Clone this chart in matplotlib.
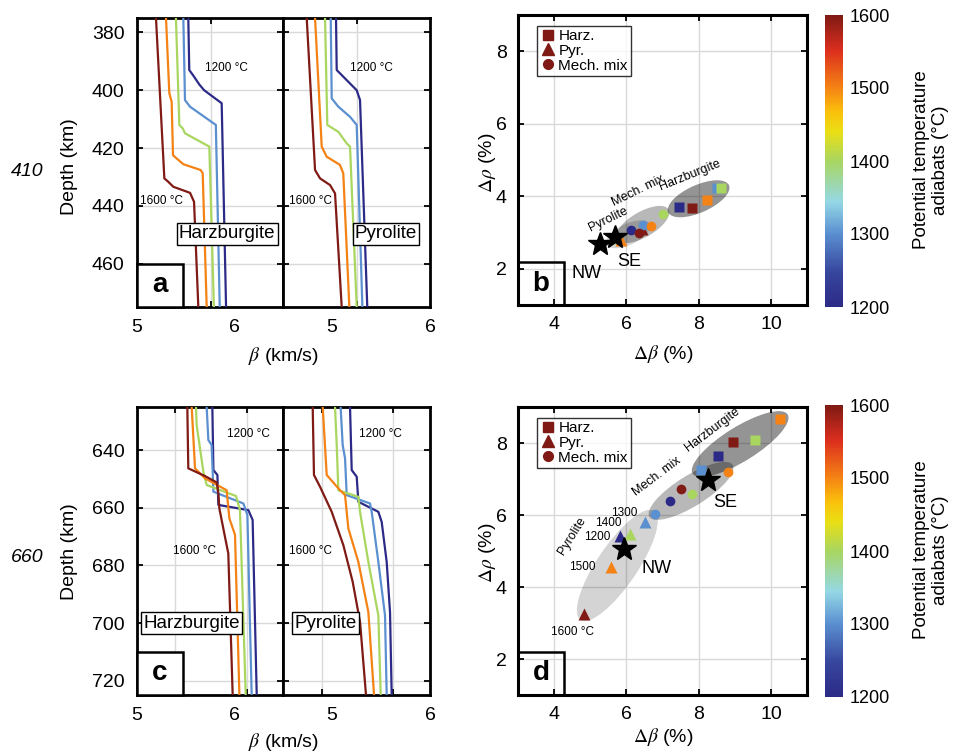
import matplotlib
matplotlib.use('Agg')
import matplotlib.pyplot as plt
from matplotlib.colors import LinearSegmentedColormap, Normalize
from matplotlib.patches import Ellipse, Rectangle
from matplotlib.cm import ScalarMappable
from matplotlib.lines import Line2D

plt.rcParams['font.family'] = ['Liberation Sans', 'DejaVu Sans']
plt.rcParams['mathtext.fontset'] = 'stix'

# ---------------- data ----------------
temps = [1200, 1300, 1400, 1500, 1600]

beta_ticks = [5, 6]
beta_ticklabels = ['5', '6']
depth410_ticks = [380, 400, 420, 440, 460]
depth660_ticks = [640, 660, 680, 700, 720]
dbeta_ticks = [4, 6, 8, 10]
drho_ticks = [2, 4, 6, 8]
cbar_ticks = [1200, 1300, 1400, 1500, 1600]

# Panel a (410 km): beta vs depth
a_harz_beta = {
    1200: [5.527, 5.537, 5.58, 5.64, 5.69, 5.87, 5.915],
    1300: [5.476, 5.493, 5.545, 5.81, 5.85],
    1400: [5.40, 5.435, 5.47, 5.493, 5.743, 5.79],
    1500: [5.298, 5.332, 5.356, 5.37, 5.476, 5.654, 5.675, 5.716],
    1600: [5.195, 5.281, 5.322, 5.373, 5.545, 5.586, 5.63],
}
a_harz_depth = {
    1200: [375, 393, 395, 398, 400, 404.5, 475],
    1300: [375, 403.4, 405.7, 412, 475],
    1400: [375, 412, 413.2, 414.9, 419.5, 475],
    1500: [375, 401, 404, 422.5, 425.6, 427.6, 428.7, 475],
    1600: [375, 430.5, 431.7, 433.4, 435.5, 438.6, 475],
}
a_pyr_beta = {
    1200: [5.041, 5.048, 5.15, 5.252, 5.286, 5.36],
    1300: [4.987, 4.997, 5.065, 5.184, 5.252, 5.31],
    1400: [4.929, 4.952, 5.065, 5.15, 5.184, 5.252],
    1500: [4.827, 4.895, 4.946, 5.08, 5.115, 5.177],
    1600: [4.742, 4.827, 4.878, 4.98, 5.031, 5.099],
}
a_pyr_depth = {
    1200: [375, 393, 396.5, 400, 403.4, 475],
    1300: [375, 402.8, 405.7, 409.2, 412, 475],
    1400: [375, 412, 414.4, 418.4, 419.5, 475],
    1500: [375, 419.5, 423, 425.8, 428.7, 475],
    1600: [375, 427.6, 430.5, 432.8, 435.7, 475],
}

# Panel c (660 km): beta vs depth
c_harz_beta = {
    1200: [5.774, 5.785, 5.826, 5.836, 6.144, 6.188, 6.230],
    1300: [5.716, 5.733, 5.767, 5.785, 6.093, 6.134, 6.178],
    1400: [5.606, 5.613, 5.682, 5.716, 6.017, 6.058, 6.117],
    1500: [5.562, 5.596, 5.70, 5.921, 5.949, 6.007, 6.052],
    1600: [5.517, 5.527, 5.70, 5.819, 5.836, 5.846, 5.921, 5.938, 5.983],
}
c_harz_depth = {
    1200: [625, 646.9, 648.6, 659.0, 660.8, 664.2, 725],
    1300: [625, 636.5, 638.2, 654.4, 658.5, 662.5, 725],
    1400: [625, 631.3, 647.5, 652.1, 655.9, 660.8, 725],
    1500: [625, 646.3, 649.8, 653.9, 663.7, 669.4, 725],
    1600: [625, 646.3, 649.0, 651.2, 655.0, 660.2, 673.0, 675.8, 725],
}
c_pyr_beta = {
    1200: [5.184, 5.201, 5.252, 5.269, 5.473, 5.507, 5.558, 5.592, 5.609],
    1300: [5.088, 5.109, 5.133, 5.150, 5.388, 5.405, 5.473, 5.541, 5.558],
    1400: [5.031, 5.048, 5.065, 5.269, 5.286, 5.371, 5.473, 5.497],
    1500: [4.905, 4.946, 5.082, 5.133, 5.167, 5.269, 5.371, 5.429],
    1600: [4.803, 4.816, 4.878, 4.997, 5.116, 5.211, 5.286, 5.347],
}
c_pyr_depth = {
    1200: [625, 646.9, 649.2, 657.9, 661.4, 664.9, 678.8, 696.2, 725],
    1300: [625, 638.2, 642.8, 655.6, 658.5, 661.4, 678.8, 697.4, 725],
    1400: [625, 638.2, 653.9, 656.2, 661.4, 678.8, 697.4, 725],
    1500: [625, 648.6, 653.9, 655.6, 667.2, 678.8, 696.2, 725],
    1600: [625, 648.6, 652.7, 661.4, 673.0, 685.7, 699.6, 725],
}

# Panel b (410 km) contrasts
b_harz_dbeta = [7.47, 8.52, 8.61, 8.24, 7.83]
b_harz_drho = [3.71, 4.24, 4.24, 3.91, 3.67]
b_mech_dbeta = [6.12, 6.47, 7.02, 6.69, 6.36]
b_mech_drho = [3.06, 3.22, 3.52, 3.18, 2.99]
b_pyr_dbeta = [5.70, 5.72, 5.75, 5.85, 6.42]
b_pyr_drho = [2.88, 2.92, 2.86, 2.80, 3.10]
b_obs_names = ['NW', 'SE']
b_obs_dbeta = [5.27, 5.69]
b_obs_drho = [2.67, 2.87]

# Panel d (660 km) contrasts
d_harz_dbeta = [8.55, 8.07, 9.55, 10.26, 8.96]
d_harz_drho = [7.64, 7.24, 8.08, 8.66, 8.02]
d_mech_dbeta = [7.21, 6.78, 7.83, 8.81, 7.50]
d_mech_drho = [6.38, 6.03, 6.59, 7.19, 6.71]
d_pyr_dbeta = [5.83, 6.52, 6.10, 5.58, 4.83]
d_pyr_drho = [5.43, 5.80, 5.46, 4.55, 3.25]
d_obs_names = ['NW', 'SE']
d_obs_dbeta = [5.94, 8.25]
d_obs_drho = [5.06, 6.97]

# ---------------- style ----------------
W, H = 961, 756
fig = plt.figure(figsize=(W / 100, H / 100), dpi=100)


def rect(x0, y0, x1, y1):
    return [x0 / W, 1 - y1 / H, (x1 - x0) / W, (y1 - y0) / H]


cmap = LinearSegmentedColormap.from_list('adiabats', [
    (0.00, '#2c2a87'), (0.12, '#37479d'), (0.25, '#5a8fd0'), (0.36, '#95d8e6'),
    (0.50, '#a8d660'), (0.60, '#eadf15'), (0.67, '#fac00c'), (0.75, '#f58414'),
    (0.88, '#dc2e1e'), (1.00, '#7f1a14')])
norm = Normalize(1200, 1600)
GRID = '#d9d9d9'
FS = 14


def letter_box(ax, letter, w, h, fill):
    ax.add_patch(Rectangle((0, 0), w, h, transform=ax.transAxes,
                           facecolor='white' if fill else 'none', edgecolor='black',
                           lw=1.8, zorder=10, clip_on=False))
    ax.text(w / 2, h / 2, letter, transform=ax.transAxes, ha='center', va='center',
            fontsize=20, fontweight='bold', zorder=11)


def depth_ax(r, xlim, ylim, yticks, gridx, showy):
    ax = fig.add_axes(r)
    ax.set_xlim(*xlim)
    ax.set_ylim(ylim[1], ylim[0])
    ax.set_xticks(beta_ticks)
    ax.set_xticklabels(beta_ticklabels)
    ax.set_xticks(gridx, minor=True)
    ax.set_yticks(yticks)
    ax.tick_params(axis='x', which='major', length=0, pad=9, labelsize=FS)
    ax.tick_params(axis='x', which='minor', direction='in', length=4, width=1.3,
                   top=True, bottom=True)
    ax.tick_params(axis='y', which='major', direction='in', length=4, width=1.3,
                   left=True, right=True, labelsize=FS, labelleft=showy, pad=9)
    ax.grid(True, which='minor', axis='x', color=GRID, lw=1)
    ax.grid(True, which='major', axis='y', color=GRID, lw=1)
    for s in ax.spines.values():
        s.set_linewidth(2)
    return ax


def draw_profiles(ax, betas, depths):
    for T in temps:
        ax.plot(betas[T], depths[T], color=cmap(norm(T)), lw=1.6, zorder=3)


def label_box(ax, x, y, s):
    ax.text(x, y, s, ha='center', va='center', fontsize=13.5, zorder=6,
            bbox=dict(boxstyle='square,pad=0.12', fc='white', ec='black', lw=1))


# ---- panel a ----
axa1 = depth_ax(rect(137, 18, 283, 307), (5, 6.5), (375, 475), depth410_ticks, [5.76], True)
axa2 = depth_ax(rect(283, 18, 430, 307), (4.5, 6), (375, 475), depth410_ticks, [5.25], False)
draw_profiles(axa1, a_harz_beta, a_harz_depth)
draw_profiles(axa2, a_pyr_beta, a_pyr_depth)
axa1.text(5.915, 392.3, '1200 °C', fontsize=8.5, ha='center', va='center')
axa2.text(5.40, 392.3, '1200 °C', fontsize=8.5, ha='center', va='center')
axa1.text(5.247, 438.3, '1600 °C', fontsize=8.5, ha='center', va='center')
axa2.text(4.776, 438.3, '1600 °C', fontsize=8.5, ha='center', va='center')
label_box(axa1, 5.925, 449.7, 'Harzburgite')
label_box(axa2, 5.55, 449.7, 'Pyrolite')
letter_box(axa1, 'a', 46 / 146, 43 / 289, True)

# ---- panel c ----
axc1 = depth_ax(rect(137, 407, 283, 695), (5, 6.5), (625, 725), depth660_ticks, [5.39, 6.13], True)
axc2 = depth_ax(rect(283, 407, 430, 695), (4.5, 6), (625, 725), depth660_ticks, [4.895, 5.626], False)
draw_profiles(axc1, c_harz_beta, c_harz_depth)
draw_profiles(axc2, c_pyr_beta, c_pyr_depth)
axc1.text(6.14, 634.4, '1200 °C', fontsize=8.5, ha='center', va='center')
axc2.text(5.49, 634.4, '1200 °C', fontsize=8.5, ha='center', va='center')
axc1.text(5.586, 675, '1600 °C', fontsize=8.5, ha='center', va='center')
axc2.text(4.776, 675, '1600 °C', fontsize=8.5, ha='center', va='center')
label_box(axc1, 5.565, 700, 'Harzburgite')
label_box(axc2, 4.93, 700, 'Pyrolite')
letter_box(axc1, 'c', 46 / 146, 43 / 288, True)

for yc, lab in [(167, '410'), (552, '660')]:
    fig.text(69 / W, 1 - yc / H, 'Depth (km)', rotation=90, ha='center', va='center', fontsize=FS)
    fig.text(27 / W, 1 - (yc + 5) / H, lab, style='italic', ha='center', va='center', fontsize=FS)
fig.text(284 / W, 1 - 356 / H, r'$\beta$ (km/s)', ha='center', va='center', fontsize=FS)
fig.text(284 / W, 1 - 742 / H, r'$\beta$ (km/s)', ha='center', va='center', fontsize=FS)


# ---- scatter panels ----
def scatter_ax(r):
    ax = fig.add_axes(r)
    ax.set_xlim(3, 11)
    ax.set_ylim(1, 9)
    ax.set_xticks(dbeta_ticks)
    ax.set_yticks(drho_ticks)
    ax.tick_params(direction='in', length=4, width=1.3, top=True, right=True,
                   labelsize=FS, pad=8)
    ax.grid(True, color=GRID, lw=1)
    ax.set_axisbelow(True)
    for s in ax.spines.values():
        s.set_linewidth(2.2)
    return ax


def points(ax, xs, ys, marker, ms):
    for T, x, y in zip(temps, xs, ys):
        ax.plot(x, y, marker=marker, ms=ms, color=cmap(norm(T)), mec='none', ls='none', zorder=5)


def ellipses(ax, specs):
    for (cx, cy, w, h, ang, alpha) in specs:
        ax.add_patch(Ellipse((cx, cy), w, h, angle=ang, facecolor='black', alpha=alpha,
                             edgecolor='none', zorder=2))


def legend(ax):
    dr = cmap(norm(1600))
    hs = [Line2D([], [], marker='s', color=dr, ls='none', ms=7),
          Line2D([], [], marker='^', color=dr, ls='none', ms=8),
          Line2D([], [], marker='o', color=dr, ls='none', ms=7)]
    lg = ax.legend(hs, ['Harz.', 'Pyr.', 'Mech. mix'], loc='upper left',
                   bbox_to_anchor=(0.066, 0.962), borderaxespad=0, fontsize=11,
                   frameon=True, fancybox=False, edgecolor='black', borderpad=0.2,
                   handletextpad=0.2, labelspacing=0.05, handlelength=1.0)
    lg.get_frame().set_linewidth(1)


# panel b
axb = scatter_ax(rect(518, 15, 807, 305))
ellipses(axb, [(6.05, 2.95, 1.32, 0.58, 25, 0.17),
               (6.45, 3.22, 1.66, 0.70, 30, 0.28),
               (8.0, 3.93, 1.84, 0.76, 24, 0.42)])
points(axb, b_pyr_dbeta, b_pyr_drho, '^', 8)
points(axb, b_mech_dbeta, b_mech_drho, 'o', 7)
points(axb, b_harz_dbeta, b_harz_drho, 's', 7)
axb.plot(b_obs_dbeta, b_obs_drho, marker='*', ms=18, color='black', ls='none', zorder=7)
axb.text(4.90, 1.88, b_obs_names[0], fontsize=13, ha='center', va='center')
axb.text(6.07, 2.20, b_obs_names[1], fontsize=13, ha='center', va='center')
axb.text(5.50, 3.36, 'Pyrolite', fontsize=9, rotation=26, ha='center', va='center')
axb.text(6.33, 4.14, 'Mech. mix', fontsize=9, rotation=26, ha='center', va='center')
axb.text(7.76, 4.57, 'Harzburgite', fontsize=9, rotation=22, ha='center', va='center')
legend(axb)
letter_box(axb, 'b', 46 / 289, 43 / 290, False)

# panel d
axd = scatter_ax(rect(518, 407, 807, 695))
ellipses(axd, [(5.75, 4.6, 3.65, 1.12, 56, 0.17),
               (7.79, 6.67, 2.72, 0.85, 32, 0.28),
               (9.15, 7.97, 3.1, 0.95, 32, 0.42)])
points(axd, d_pyr_dbeta, d_pyr_drho, '^', 8)
points(axd, d_mech_dbeta, d_mech_drho, 'o', 7)
points(axd, d_harz_dbeta, d_harz_drho, 's', 7)
axd.plot(d_obs_dbeta, d_obs_drho, marker='*', ms=18, color='black', ls='none', zorder=7)
axd.text(6.84, 4.52, d_obs_names[0], fontsize=13, ha='center', va='center')
axd.text(8.74, 6.35, d_obs_names[1], fontsize=13, ha='center', va='center')
axd.text(4.50, 5.43, 'Pyrolite', fontsize=9, rotation=58, ha='center', va='center')
axd.text(6.84, 7.06, 'Mech. mix', fontsize=9, rotation=37, ha='center', va='center')
axd.text(8.39, 8.38, 'Harzburgite', fontsize=9, rotation=37, ha='center', va='center')
axd.text(6.30, 6.05, '1300', fontsize=8.5, ha='right', va='center')
axd.text(5.87, 5.77, '1400', fontsize=8.5, ha='right', va='center')
axd.text(5.55, 5.40, '1200', fontsize=8.5, ha='right', va='center')
axd.text(5.16, 4.56, '1500', fontsize=8.5, ha='right', va='center')
axd.text(4.50, 2.76, '1600 °C', fontsize=8.5, ha='center', va='center')
legend(axd)
letter_box(axd, 'd', 46 / 289, 43 / 288, False)

for yc in [354, 737]:
    fig.text(663 / W, 1 - yc / H, r'$\Delta\beta$ (%)', ha='center', va='center', fontsize=FS)
for yc in [163, 553]:
    fig.text(487 / W, 1 - yc / H, r'$\Delta\rho$ (%)', rotation=90, ha='center', va='center', fontsize=FS)

# colorbars
for (y0, y1, yc) in [(15, 307, 160), (405, 697, 550)]:
    cax = fig.add_axes(rect(825, y0, 843, y1))
    cb = fig.colorbar(ScalarMappable(norm=norm, cmap=cmap), cax=cax, ticks=cbar_ticks)
    cb.outline.set_visible(False)
    cax.tick_params(length=0, labelsize=13, pad=5)
    fig.text(931 / W, 1 - yc / H, 'Potential temperature\nadiabats (°C)', rotation=90,
             ha='center', va='center', fontsize=13.5, multialignment='center', linespacing=1.1)

fig.savefig('out.png', dpi=100)
